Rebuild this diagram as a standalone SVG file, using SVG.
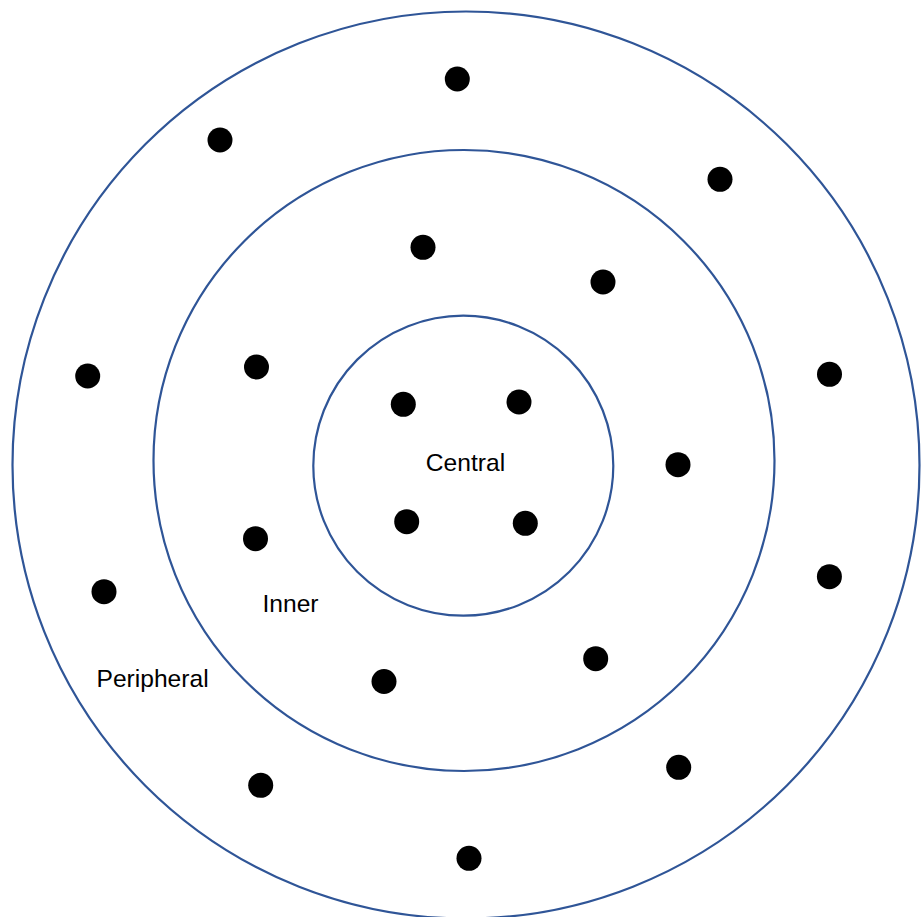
<svg xmlns="http://www.w3.org/2000/svg" width="922" height="917" viewBox="0 0 922 917">
<style>
.ring{fill:none;stroke:#2F5597;stroke-width:2.2}
.dot{fill:#000}
.lbl{font-family:"Liberation Sans",Arial,sans-serif;font-size:24.6px;fill:#000}
</style>
<rect width="922" height="917" fill="#fff"/>
<g id="peripheral">
<circle class="ring" cx="466" cy="465" r="453.5"/>
<text class="lbl" x="96.5" y="687">Peripheral</text>
</g>
<g id="inner">
<circle class="ring" cx="464" cy="460.5" r="310.5"/>
<text class="lbl" x="262.5" y="612">Inner</text>
</g>
<g id="central">
<circle class="ring" cx="463.3" cy="465.7" r="150"/>
<text class="lbl" x="465.5" y="471" text-anchor="middle">Central</text>
</g>
<g id="dots">
<circle class="dot" cx="403.3" cy="404.3" r="12.5"/>
<circle class="dot" cx="519" cy="402" r="12.5"/>
<circle class="dot" cx="406.7" cy="521.7" r="12.5"/>
<circle class="dot" cx="525.3" cy="523.3" r="12.5"/>
<circle class="dot" cx="457.3" cy="79" r="12.5"/>
<circle class="dot" cx="220" cy="140" r="12.5"/>
<circle class="dot" cx="720" cy="179.3" r="12.5"/>
<circle class="dot" cx="423" cy="247.3" r="12.5"/>
<circle class="dot" cx="603" cy="282" r="12.5"/>
<circle class="dot" cx="87.7" cy="376" r="12.5"/>
<circle class="dot" cx="256.5" cy="367" r="12.5"/>
<circle class="dot" cx="829.5" cy="374.3" r="12.5"/>
<circle class="dot" cx="678" cy="464.7" r="12.5"/>
<circle class="dot" cx="255.5" cy="538.7" r="12.5"/>
<circle class="dot" cx="829.4" cy="576.7" r="12.5"/>
<circle class="dot" cx="104" cy="591.7" r="12.5"/>
<circle class="dot" cx="595.7" cy="658.7" r="12.5"/>
<circle class="dot" cx="384" cy="681.5" r="12.5"/>
<circle class="dot" cx="260.7" cy="785.3" r="12.5"/>
<circle class="dot" cx="678.7" cy="767.3" r="12.5"/>
<circle class="dot" cx="469" cy="858.3" r="12.5"/>
</g>
</svg>
